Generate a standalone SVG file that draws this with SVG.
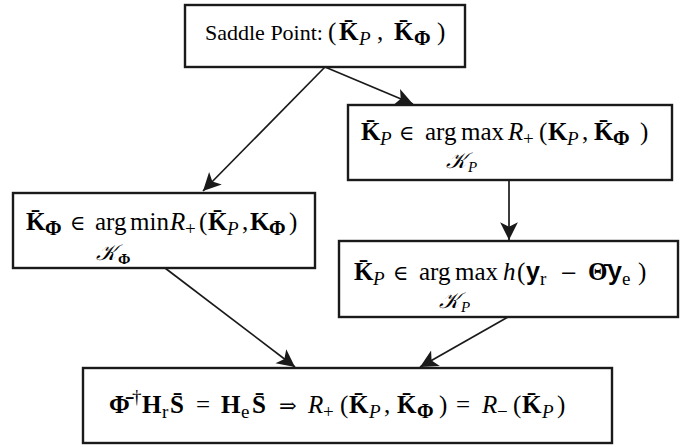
<svg xmlns="http://www.w3.org/2000/svg" width="690" height="447" viewBox="0 0 690 447">
<defs>
<marker id="ah" markerUnits="userSpaceOnUse" markerWidth="20" markerHeight="20" viewBox="-17 -9 18 18" refX="0" refY="0" orient="auto">
<path d="M0,0 L-16,-8 L-12,0 L-16,8 Z" fill="#1a1a1a"/>
</marker>
</defs>
<style>
rect.box{fill:#fff;stroke:#1a1a1a;stroke-width:2.4}
.cn{stroke:#1a1a1a;stroke-width:1.7;fill:none;marker-end:url(#ah)}
text{font-family:"Liberation Serif","DejaVu Serif",serif;font-size:25px;fill:#000}
.t{font-size:22px}
.b{font-weight:bold}
.i{font-style:italic}
.s{font-size:19px}
.f{font-size:20px;font-weight:bold}
.ss{font-size:15px}
.k{font-size:22px;font-style:italic}
.sy{font-family:"DejaVu Serif",serif;font-size:21px}
.sf{font-family:"Liberation Sans",sans-serif;font-weight:bold}
</style>
<rect width="690" height="447" fill="#fff"/>
<g id="connectors">
<line class="cn" x1="325" y1="67" x2="203" y2="191"/>
<line class="cn" x1="325" y1="67" x2="413" y2="104"/>
<line class="cn" x1="509" y1="180" x2="509" y2="240"/>
<line class="cn" x1="165" y1="268" x2="295" y2="367"/>
<line class="cn" x1="508" y1="317" x2="420" y2="367"/>
</g>
<g id="saddle">
<rect class="box" x="185" y="5" width="280" height="62"/>
<text y="40"><tspan x="205" class="t">Saddle Point:</tspan><tspan x="328">(</tspan><tspan x="339" class="b">K̄</tspan><tspan x="359" y="45" class="i s">P</tspan><tspan x="377" y="40">,</tspan><tspan x="394" class="b">K̄</tspan><tspan x="414" y="45" class="f">Φ</tspan><tspan x="437" y="40">)</tspan></text>
</g>
<g id="maxKP">
<rect class="box" x="348" y="105" width="324" height="75"/>
<text y="140"><tspan x="361" class="b">K̄</tspan><tspan x="380" y="145" class="i s">P</tspan><tspan x="399" y="140" class="sy">∈</tspan><tspan x="425">arg</tspan><tspan x="461">max</tspan><tspan x="508" class="i">R</tspan><tspan x="523" y="145" class="s">+</tspan><tspan x="539" y="140">(</tspan><tspan x="548" class="b">K</tspan><tspan x="567" y="145" class="i s">P</tspan><tspan x="582" y="140">,</tspan><tspan x="594" class="b">K̄</tspan><tspan x="613" y="145" class="f">Φ</tspan><tspan x="640" y="140">)</tspan></text>
<text y="168"><tspan x="446" class="k">𝒦</tspan><tspan x="468" y="172" class="i ss">P</tspan></text>
</g>
<g id="minKPhi">
<rect class="box" x="13" y="193" width="302" height="75"/>
<text y="230"><tspan x="26" class="b">K̄</tspan><tspan x="45" y="235" class="f">Φ</tspan><tspan x="70" y="230" class="sy">∈</tspan><tspan x="95">arg</tspan><tspan x="130">min</tspan><tspan x="170" class="i">R</tspan><tspan x="185" y="235" class="s">+</tspan><tspan x="199" y="230">(</tspan><tspan x="208" class="b">K̄</tspan><tspan x="227" y="235" class="i s">P</tspan><tspan x="242" y="230">,</tspan><tspan x="250" class="b">K</tspan><tspan x="269" y="235" class="f">Φ</tspan><tspan x="289" y="230">)</tspan></text>
<text y="260"><tspan x="96" class="k">𝒦</tspan><tspan x="118" y="264" class="b ss">Φ</tspan></text>
</g>
<g id="maxH">
<rect class="box" x="339" y="241" width="339" height="76"/>
<text y="280"><tspan x="354" class="b">K̄</tspan><tspan x="373" y="285" class="i s">P</tspan><tspan x="393" y="280" class="sy">∈</tspan><tspan x="419">arg</tspan><tspan x="455">max</tspan><tspan x="503" class="i">h</tspan><tspan x="517">(</tspan><tspan x="526" class="sf">y</tspan><tspan x="540" y="285" class="s">r</tspan><tspan x="560" y="280" class="sy">−</tspan><tspan x="588" class="b">Θ̄</tspan><tspan x="608" class="sf">y</tspan><tspan x="622" y="285" class="s">e</tspan><tspan x="638" y="280">)</tspan></text>
<text y="308"><tspan x="439" class="k">𝒦</tspan><tspan x="461" y="312" class="i ss">P</tspan></text>
</g>
<g id="result">
<rect class="box" x="83" y="368" width="529" height="75"/>
<text y="413"><tspan x="109" class="b">Φ̄</tspan><tspan x="132" y="403" class="s">†</tspan><tspan x="142" y="413" class="b">H</tspan><tspan x="162" y="418" class="s">r</tspan><tspan x="170" y="413" class="b">S̄</tspan><tspan x="196">=</tspan><tspan x="221" class="b">H</tspan><tspan x="241" y="418" class="s">e</tspan><tspan x="252" y="413" class="b">S̄</tspan><tspan x="279" class="sy">⇒</tspan><tspan x="308" class="i">R</tspan><tspan x="323" y="418" class="s">+</tspan><tspan x="340" y="413">(</tspan><tspan x="349" class="b">K̄</tspan><tspan x="369" y="418" class="i s">P</tspan><tspan x="384" y="413">,</tspan><tspan x="397" class="b">K̄</tspan><tspan x="417" y="418" class="f">Φ</tspan><tspan x="439" y="413">)</tspan><tspan x="456">=</tspan><tspan x="482" class="i">R</tspan><tspan x="497" y="418" class="s">−</tspan><tspan x="513" y="413">(</tspan><tspan x="522" class="b">K̄</tspan><tspan x="542" y="418" class="i s">P</tspan><tspan x="557" y="413">)</tspan></text>
</g>
</svg>
